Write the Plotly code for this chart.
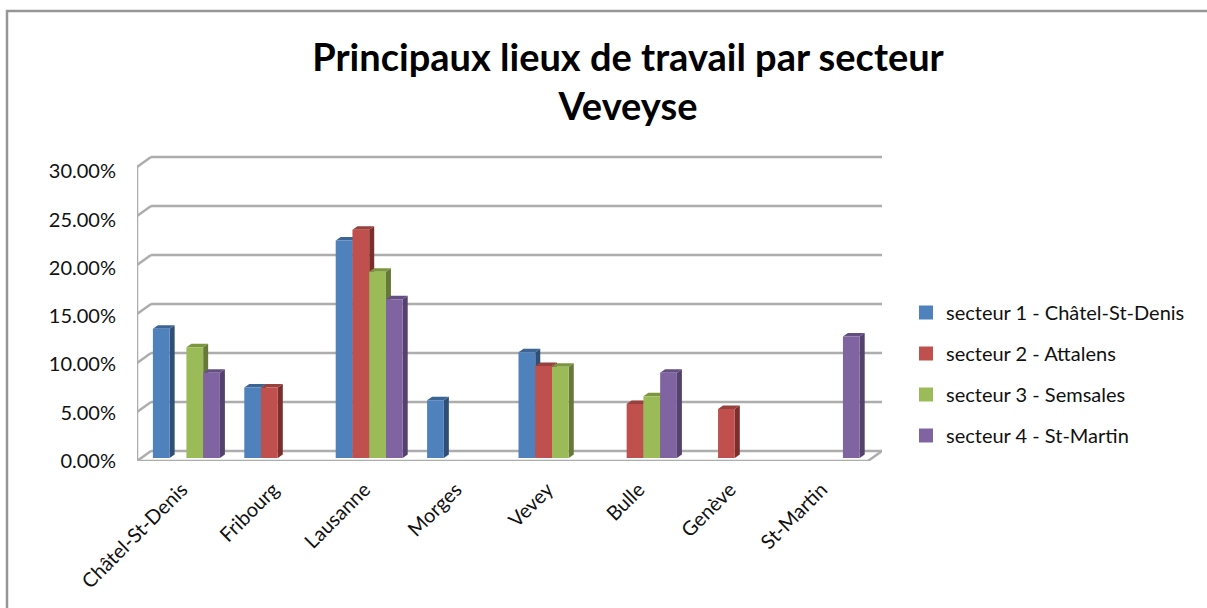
import plotly.graph_objects as go

categories = ["Châtel-St-Denis", "Fribourg", "Lausanne", "Morges", "Vevey", "Bulle", "Genève", "St-Martin"]
series_names = ["secteur 1 - Châtel-St-Denis", "secteur 2 - Attalens", "secteur 3 - Semsales", "secteur 4 - St-Martin"]
s1 = [13.2, 7.2, 22.2, 5.9, 10.8, None, None, None]
s2 = [None, 7.2, 23.3, None, 9.4, 5.5, 5.0, None]
s3 = [11.3, None, 19.0, None, 9.3, 6.3, None, None]
s4 = [8.7, None, 16.2, None, None, 8.7, None, 12.4]
all_series = [s1, s2, s3, s4]
y_ticks = [0, 5, 10, 15, 20, 25, 30]

front = ["#4F81BD", "#C0504D", "#9BBB59", "#8064A2"]
side = ["#2F4F76", "#7B2F2D", "#66793A", "#54416C"]
top = ["#3C6594", "#97403D", "#7C963F", "#654F82"]
GRID = "#ADADAD"

W, H = 1207, 608
PX_X = 91.4      # pixels per category
PX_Y = 9.8       # pixels per percent
X0 = 186.4       # pixel of first category centre
Y0 = 458         # pixel of zero on the bars' plane
L, R, B, T = 137, 882, 461, 155

x_range = [(L - X0) / PX_X, (R - X0) / PX_X]
y_range = [(Y0 - B) / PX_Y, (Y0 - T) / PX_Y]
GROUP = 67 / PX_X
BW = GROUP / 4
DX, DY = 5 / PX_X, 3.5 / PX_Y        # bar depth
fx = lambda px: (px - X0) / PX_X
back = lambda v: v + 7 / PX_Y
frnt = lambda v: v - 3 / PX_Y

shapes = []
def line(x0, y0, x1, y1):
    shapes.append(dict(type="line", xref="x", yref="y", x0=x0, y0=y0, x1=x1, y1=y1,
                       layer="below", line=dict(color=GRID, width=2.5)))

xL, xLb, xR, xRb = fx(137), fx(151), fx(868), fx(882)
for v in y_ticks:
    line(xLb, back(v), xRb, back(v))
    line(xL, frnt(v), xLb, back(v))
line(xL, frnt(0), xL, frnt(30))
line(xL, frnt(0), xR, frnt(0))
line(xR, frnt(0), xRb, back(0))

for i, vals in enumerate(all_series):
    for c, v in enumerate(vals):
        if v is None:
            continue
        x0 = c - GROUP / 2 + i * BW
        x1 = x0 + BW
        shapes.append(dict(type="path", xref="x", yref="y", layer="below", line=dict(width=0),
                           fillcolor=side[i],
                           path=f"M{x1},0 L{x1 + DX},{DY} L{x1 + DX},{v + DY} L{x1},{v} Z"))
        shapes.append(dict(type="path", xref="x", yref="y", layer="below", line=dict(width=0),
                           fillcolor=top[i],
                           path=f"M{x0},{v} L{x0 + DX},{v + DY} L{x1 + DX},{v + DY} L{x1},{v} Z"))

# chart frame
shapes.append(dict(type="path", xref="paper", yref="paper", layer="below",
                   line=dict(color="#969696", width=2.5),
                   path=f"M{7 / W},0 L{7 / W},{1 - 11 / H} L1,{1 - 11 / H}"))

fig = go.Figure()
xs = list(range(len(categories)))
for i, vals in enumerate(all_series):
    fig.add_trace(go.Bar(x=xs, y=vals, marker=dict(color=front[i], line=dict(width=0)),
                         name=series_names[i], showlegend=False, hoverinfo="name+y"))
for i, name in enumerate(series_names):
    fig.add_trace(go.Scatter(x=[None], y=[None], mode="markers", name=name, legendgroup=name,
                             marker=dict(symbol="square", size=14, color=front[i])))

fig.update_layout(
    width=W, height=H, margin=dict(l=0, r=0, t=0, b=0, autoexpand=False), autosize=False,
    paper_bgcolor="white", plot_bgcolor="rgba(0,0,0,0)",
    barmode="group", bargap=1 - GROUP, bargroupgap=0,
    font=dict(family="Lato", size=20, color="#111111"),
    shapes=shapes,
    title=dict(text="Principaux lieux de travail par secteur<br>Veveyse",
               x=628 / W, xanchor="center", y=1 - 71 / H, yanchor="top", automargin=False,
               font=dict(family="Lato", size=38, weight=700, color="#000000")),
    xaxis=dict(domain=[L / W, R / W], range=x_range, tickmode="array",
               tickvals=[c - 0.05 for c in xs], ticktext=categories,
               tickangle=-45, showgrid=False, zeroline=False, showline=False, automargin=False,
               ticks="outside", ticklen=8, tickcolor="rgba(0,0,0,0)", tickfont=dict(size=20)),
    yaxis=dict(domain=[(H - B) / H, (H - T) / H], range=y_range, tickmode="array",
               tickvals=[frnt(v) * 0.985 for v in y_ticks], ticktext=[f"{v:.2f}%" for v in y_ticks],
               showgrid=False, zeroline=False, showline=False, automargin=False,
               ticks="outside", ticklen=16, tickcolor="rgba(0,0,0,0)", tickfont=dict(size=20)),
    legend=dict(x=906 / W, xanchor="left", y=1 - 293 / H, yanchor="top", tracegroupgap=12,
                font=dict(size=20), bgcolor="rgba(0,0,0,0)", itemclick=False),
)

fig.write_html("out.html", config=dict(displayModeBar=False),
               post_script="document.body.style.margin='0';")
